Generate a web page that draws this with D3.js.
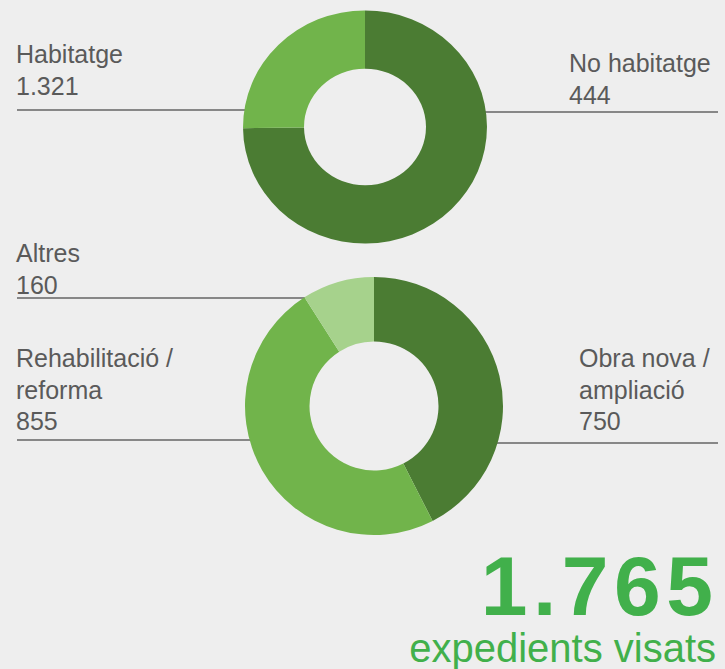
<!DOCTYPE html>
<html>
<head>
<meta charset="utf-8">
<script src="https://cdn.jsdelivr.net/npm/d3@7"></script>
<style>
  body { margin:0; background:#eeeeee; }
  svg { display:block; font-family:"Liberation Sans", Arial, sans-serif; }
</style>
</head>
<body>
<div class="canvas"></div>
<script>
// data
var useLabels = [['Habitatge'], ['No habitatge']];
var useValues = [1321, 444];

var typeLabels = [['Obra nova /', 'ampliació'], ['Rehabilitació /', 'reforma'], ['Altres']];
var typeValues = [750, 855, 160];

var totalLabel = 'expedients visats';

var width = 725, height = 669;

var fmt = d3.formatLocale({decimal:',', thousands:'.', grouping:[3], currency:['','€']}).format(',');

var svg = d3.select('.canvas')
    .append('svg')
    .attr('width', width)
    .attr('height', height);

var greens = ['#4b7c33', '#71b44b', '#a6d28c'];

var pie = d3.pie().sort(null);

// top donut is drawn a bit wider than tall, like the original
drawDonut({
    values: useValues, labels: useLabels,
    cx: 365, cy: 127, r: 119, sx: 1.025, sy: 0.98,
    colors: ['#4b7c33', '#71b44b'],
    slots: [
        {side:'left', x:16, y:63, ruleY:110},
        {side:'right', x:569, y:72, ruleY:112}
    ]
});

drawDonut({
    values: typeValues, labels: typeLabels,
    cx: 374, cy: 406, r: 129, sx: 1, sy: 1,
    colors: greens,
    slots: [
        {side:'right', x:579, y:367, ruleY:443},
        {side:'left', x:16, y:367, ruleY:440},
        {side:'left', x:16, y:262, ruleY:298}
    ]
});

function drawDonut(o){
    var g = svg.append('g')
        .attr('transform', 'translate(' + o.cx + ',' + o.cy + ') scale(' + o.sx + ',' + o.sy + ')');

    var arc = d3.arc().innerRadius(o.r * 0.5).outerRadius(o.r);

    g.selectAll('path')
        .data(pie(o.values))
        .enter()
        .append('path')
        .attr('d', arc)
        .style('fill', function(d, i){ return o.colors[i]; });

    var rx = o.r * o.sx, ry = o.r * o.sy;

    o.slots.forEach(function(s, i){
        var lines = o.labels[i].concat([fmt(o.values[i])]);
        var t = svg.append('text')
            .attr('x', s.x)
            .attr('y', s.y)
            .style('font-size', '25px')
            .style('fill', '#5a5a5a');
        t.selectAll('tspan')
            .data(lines)
            .enter()
            .append('tspan')
            .attr('x', s.x)
            .attr('dy', function(d, j){ return j == 0 ? 0 : 31.5; })
            .text(function(d){ return d; });

        // rule from label to the donut edge
        var k = (s.ruleY - o.cy) / ry;
        var dx = rx * Math.sqrt(Math.max(0, 1 - k * k));
        var x1 = s.side == 'left' ? 17 : o.cx + dx - 2;
        var x2 = s.side == 'left' ? o.cx - dx + 2 : 718;
        svg.insert('line', 'g')
            .attr('x1', x1).attr('x2', x2)
            .attr('y1', s.ruleY).attr('y2', s.ruleY)
            .style('stroke', '#878787')
            .style('stroke-width', 2);
    });
}

// total
var total = d3.sum(typeValues);

svg.append('text')
    .attr('x', 718.5)
    .attr('y', 615)
    .attr('text-anchor', 'end')
    .style('font-size', '84px')
    .style('font-weight', 'bold')
    .style('letter-spacing', '5.5px')
    .style('fill', '#41b04b')
    .text(fmt(total));

svg.append('text')
    .attr('x', 716)
    .attr('y', 662)
    .attr('text-anchor', 'end')
    .style('font-size', '40px')
    .style('fill', '#41b04b')
    .text(totalLabel);
</script>
</body>
</html>
